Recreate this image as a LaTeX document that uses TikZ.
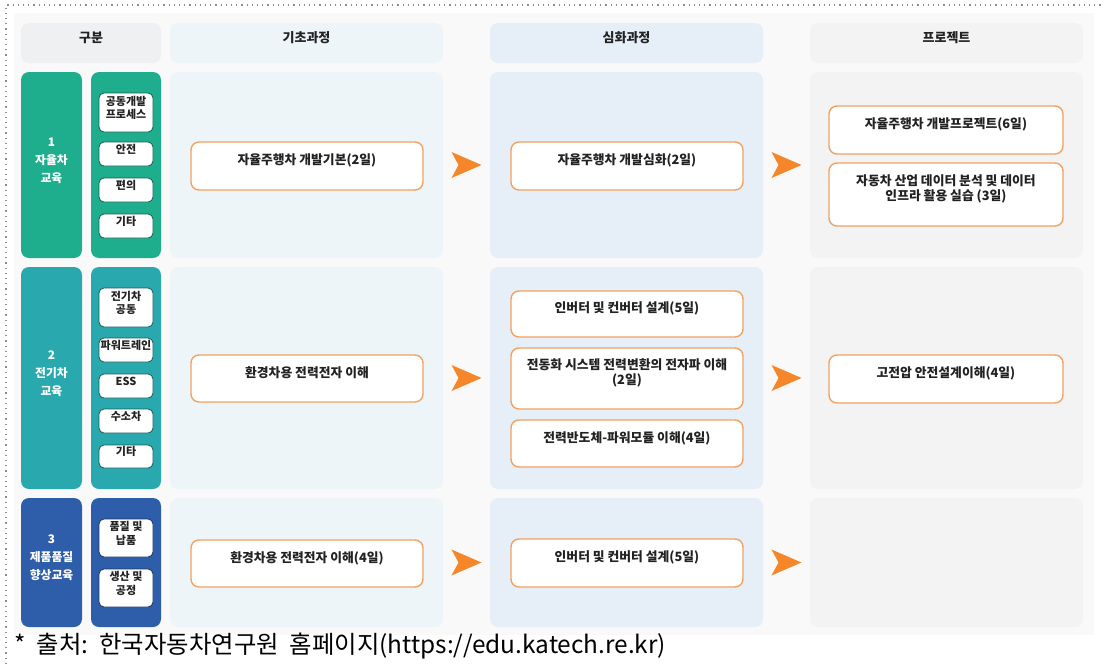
\documentclass[tikz,border=0pt]{standalone}
\usepackage{fontspec}
\setmainfont{Noto Sans CJK KR}
\usepackage{tikz}
\usetikzlibrary{fit}
\definecolor{pagebg}{HTML}{F9F9F9}
\definecolor{hdgray}{HTML}{EFF0F2}
\definecolor{basefill}{HTML}{EEF5F9}
\definecolor{advfill}{HTML}{E6EFF7}
\definecolor{prjfill}{HTML}{F3F3F3}
\definecolor{rowa}{HTML}{1FAE8D}
\definecolor{rowb}{HTML}{29A8AD}
\definecolor{rowc}{HTML}{2E5EA9}
\definecolor{crsline}{HTML}{F2A160}
\definecolor{chevfill}{HTML}{F5872A}
\definecolor{txtdark}{HTML}{222222}
\tikzset{
  panel/.style ={rounded corners=4pt, inner sep=0pt, draw=none},
  hdr/.style   ={panel, font=\bfseries\fontsize{6.5}{7.5}\selectfont, text=txtdark},
  cat/.style   ={panel, align=center, text=white, font=\bfseries\fontsize{5.9}{9}\selectfont},
  sub/.style   ={rounded corners=2.5pt, inner sep=0pt, fill=white, line width=0.4pt,
                 align=center, text=txtdark, font=\bfseries\fontsize{5.5}{6.7}\selectfont},
  crs/.style   ={rounded corners=4pt, inner sep=0pt, fill=white, draw=crsline, line width=0.7pt,
                 align=center, text=txtdark, font=\bfseries\fontsize{6.4}{7.6}\selectfont},
  chev/.style  ={fill=chevfill, draw=none},
}
\begin{document}
\begin{tikzpicture}[x=0.5pt,y=-0.5pt]
  \useasboundingbox (0,0) rectangle (1104,664);
  \fill[white] (0,0) rectangle (1104,664);
  \draw[black!45, line width=0.6pt, dotted] (6,664) -- (6,5) -- (1104,5);
  \fill[pagebg] (14,13) rectangle (1094,635);
  % header row
  \node[hdr, fill=hdgray, fit={(21,23) (161,63)}] (h0) {구분};
  \node[hdr, fill=basefill, fit={(170,23) (443,63)}] (h1) {기초과정};
  \node[hdr, fill=advfill, fit={(490,23) (763,63)}] (h2) {심화과정};
  \node[hdr, fill=prjfill, fit={(810,23) (1083,63)}] (h3) {프로젝트};
  % row 1
  \node[cat, fill=rowa, fit={(21,72) (82,258)}] (cat1) {1\\자율차\\교육};
  \node[panel, fill=rowa, fit={(91,72) (161,258)}] (grp1) {};
  \node[panel, fill=basefill, fit={(170,72) (443,258)}] (b1) {};
  \node[panel, fill=advfill, fit={(490,72) (763,258)}] (a1) {};
  \node[panel, fill=prjfill, fit={(810,72) (1083,258)}] (p1) {};
  \node[sub, draw=rowa!55!black, fit={(99,93) (153,132)}] (s11) {공동개발\\프로세스};
  \node[sub, draw=rowa!55!black, fit={(99,142) (153,166)}] (s12) {안전};
  \node[sub, draw=rowa!55!black, fit={(99,178) (153,202)}] (s13) {편의};
  \node[sub, draw=rowa!55!black, fit={(99,214) (153,238)}] (s14) {기타};
  \node[crs, fit={(191,142) (423,190)}] (c11) {자율주행차 개발기본(2일)};
  \node[crs, fit={(511,142) (743,190)}] (c12) {자율주행차 개발심화(2일)};
  \node[crs, fit={(829,106) (1063,154)}] (c13) {자율주행차 개발프로젝트(6일)};
  \node[crs, fit={(829,163) (1063,226)}] (c14) {자동차 산업 데이터 분석 및 데이터\\인프라 활용 실습 (3일)};
  % row 2
  \node[cat, fill=rowb, fit={(21,267) (82,489)}] (cat2) {2\\전기차\\교육};
  \node[panel, fill=rowb, fit={(91,267) (161,489)}] (grp2) {};
  \node[panel, fill=basefill, fit={(170,267) (443,489)}] (b2) {};
  \node[panel, fill=advfill, fit={(490,267) (763,489)}] (a2) {};
  \node[panel, fill=prjfill, fit={(810,267) (1083,489)}] (p2) {};
  \node[sub, draw=rowb!55!black, fit={(99,288) (153,327)}] (s21) {전기차\\공동};
  \node[sub, draw=rowb!55!black, fit={(99,338) (153,362)}] (s22) {파워트레인};
  \node[sub, draw=rowb!55!black, fit={(99,374) (153,398)}] (s23) {ESS};
  \node[sub, draw=rowb!55!black, fit={(99,409) (153,433)}] (s24) {수소차};
  \node[sub, draw=rowb!55!black, fit={(99,445) (153,468)}] (s25) {기타};
  \node[crs, fit={(191,355) (423,402)}] (c21) {환경차용 전력전자 이해};
  \node[crs, fit={(511,291) (743,337)}] (c22) {인버터 및 컨버터 설계(5일)};
  \node[crs, fit={(511,348) (743,409)}] (c23) {전동화 시스템 전력변환의 전자파 이해\\(2일)};
  \node[crs, fit={(511,420) (743,467)}] (c24) {전력반도체-파워모듈 이해(4일)};
  \node[crs, fit={(829,355) (1063,403)}] (c25) {고전압 안전설계이해(4일)};
  % row 3
  \node[cat, fill=rowc, fit={(21,498) (82,627)}] (cat3) {3\\제품품질\\향상교육};
  \node[panel, fill=rowc, fit={(91,498) (161,627)}] (grp3) {};
  \node[panel, fill=basefill, fit={(170,498) (443,627)}] (b3) {};
  \node[panel, fill=advfill, fit={(490,498) (763,627)}] (a3) {};
  \node[panel, fill=prjfill, fit={(810,498) (1083,627)}] (p3) {};
  \node[sub, draw=rowc!55!black, fit={(99,519) (153,557)}] (s31) {품질 및\\납품};
  \node[sub, draw=rowc!55!black, fit={(99,569) (153,607)}] (s32) {생산 및\\공정};
  \node[crs, fit={(191,540) (423,587)}] (c31) {환경차용 전력전자 이해(4일)};
  \node[crs, fit={(511,539) (743,587)}] (c32) {인버터 및 컨버터 설계(5일)};
  % arrows between stages
  \foreach \r in {1,2,3}{
    \path (b\r.east) -- coordinate[midway] (ba\r) (a\r.west);
    \path (a\r.east) -- coordinate[midway] (ap\r) (p\r.west);
    \fill[chev, shift={(ba\r)}] (-15,-13) -- (15,0) -- (-15,13) -- (-8,0) -- cycle;
    \fill[chev, shift={(ap\r)}] (-15,-13) -- (15,0) -- (-15,13) -- (-8,0) -- cycle;
  }
  % source line
  \node[anchor=west, inner sep=0pt, font=\fontsize{12.2}{14}\selectfont] (src) at (14,646)
    {*\ \ 출처:\ \ 한국자동차연구원\ \ 홈페이지(https://edu.katech.re.kr)};
\end{tikzpicture}
\end{document}
